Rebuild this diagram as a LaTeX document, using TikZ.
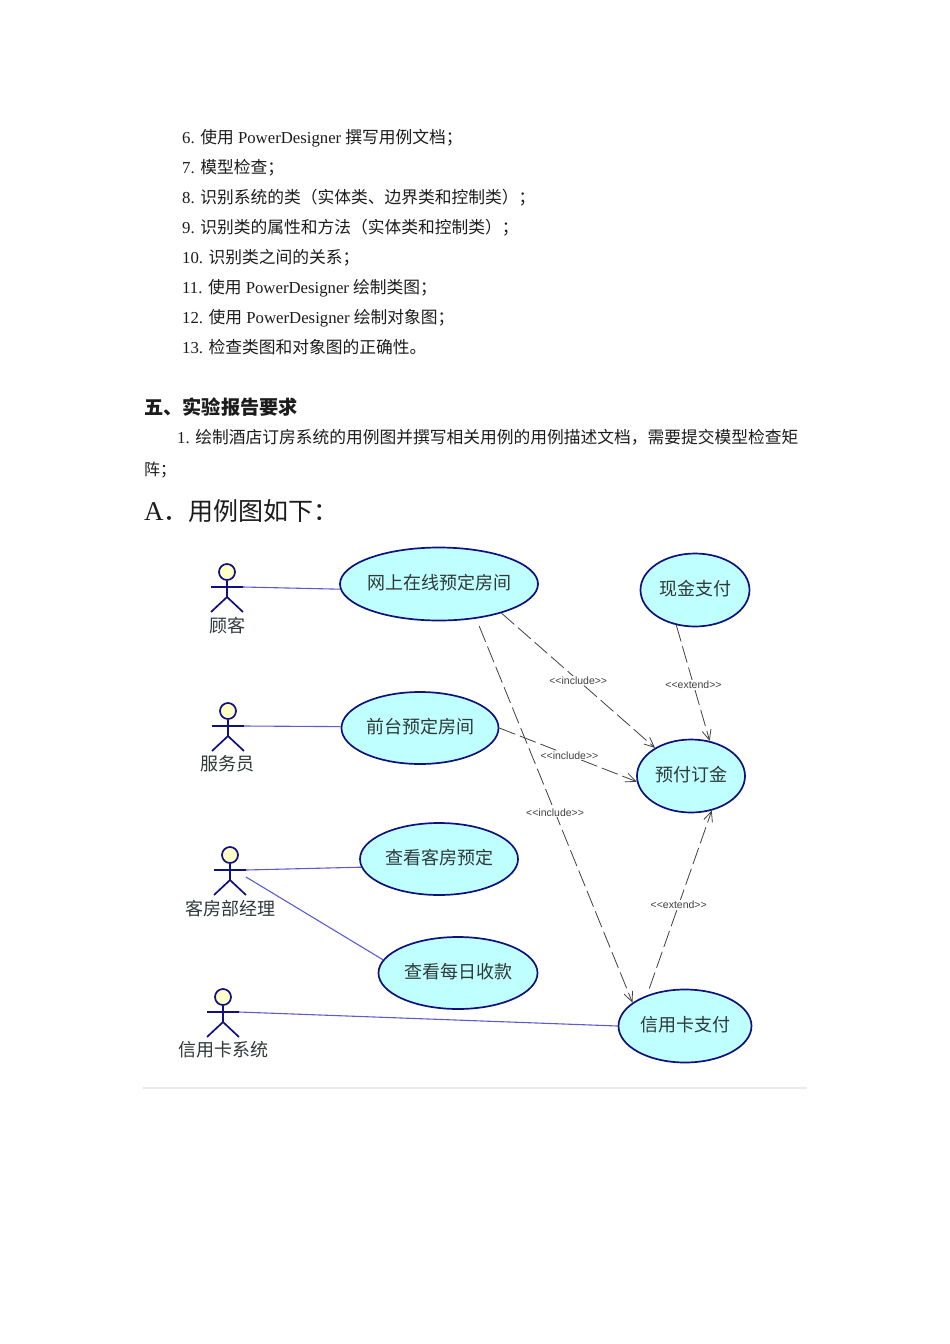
\documentclass[tikz,border=0pt]{standalone}
\usepackage{fontspec}
\setmainfont{Liberation Serif}
\newfontfamily\cjk{Noto Sans CJK SC}
\newfontfamily\umlfont{Liberation Sans}
\usetikzlibrary{arrows.meta,positioning,shapes.geometric}
\definecolor{caseFill}{HTML}{BFFFFF}
\definecolor{caseEdge}{HTML}{10107F}
\definecolor{headFill}{HTML}{FFFFC8}
\definecolor{assocBlue}{HTML}{5C5CD0}
\definecolor{bodyText}{HTML}{1C1C1C}
\definecolor{caseText}{HTML}{303838}
\tikzset{actor/.pic={
  \node[draw=caseEdge,fill=headFill,line width=1.7pt,circle,minimum size=16pt,inner sep=0pt] (-head) at (0,0) {};
  \coordinate (-hand) at (16,15);
  \coordinate (-side) at (16,22);
  \draw[caseEdge,line width=1.7pt] (-head) -- (0,25) (-16,15) -- (-hand) (-16,40) -- (0,25) -- (16,40);
}}
\begin{document}
\begin{tikzpicture}[x=1pt,y=-1pt,>={Straight Barb[length=10pt,width=9pt]}]
\tikzstyle{usecase}=[draw=caseEdge,fill=caseFill,ellipse,line width=1.7pt,inner sep=-6pt,text height=15.5pt,text depth=5pt,text=caseText,font=\fontsize{18}{20}\selectfont\cjk]
\tikzstyle{actorname}=[text=caseText,inner sep=0pt,font=\fontsize{18}{20}\selectfont\cjk]
\tikzstyle{assoc}=[draw=assocBlue,line width=1.1pt]
\tikzstyle{dep}=[->,draw=black!75,line width=.8pt,dash pattern=on 17pt off 5pt]
\tikzstyle{stereo}=[fill=white,inner sep=1pt,text=black!75,font=\fontsize{10.5}{12}\selectfont\umlfont]
\tikzstyle{para}=[anchor=base west,inner sep=0pt,text=bodyText,font=\fontsize{16.75}{20}\selectfont]
\useasboundingbox (0,0) rectangle (950,1344);
\fill[white] (0,0) rectangle (950,1344);
% text above
\foreach \y/\txt in {143/{6. {\cjk 使用} PowerDesigner {\cjk 撰写用例文档；}},
  173/{7. {\cjk 模型检查；}},
  203/{8. {\cjk 识别系统的类（实体类、边界类和控制类）；}},
  233/{9. {\cjk 识别类的属性和方法（实体类和控制类）；}},
  263/{10. {\cjk 识别类之间的关系；}},
  293/{11. {\cjk 使用} PowerDesigner {\cjk 绘制类图；}},
  323/{12. {\cjk 使用} PowerDesigner {\cjk 绘制对象图；}},
  353/{13. {\cjk 检查类图和对象图的正确性。}}}{
  \node[para] (line\y) at (182,\y) {\txt};
}
\node[para,font=\fontsize{19.2}{22}\selectfont\cjk\bfseries] (heading) at (144,414) {五、实验报告要求};
\node[para] (task) at (177,443) {1. {\cjk 绘制酒店订房系统的用例图并撰写相关用例的用例描述文档，需要提交模型检查矩}};
\node[para,font=\fontsize{16}{20}\selectfont\cjk] (taskend) at (144,475) {阵；};
\node[para] (title) at (144,520) {\fontsize{27}{30}\selectfont A{\fontsize{25}{30}\selectfont\cjk ．用例图如下：}};
% actors
\pic (guest) at (227,572) {actor};
\pic (clerk) at (228,711) {actor};
\pic (manager) at (230,855) {actor};
\pic (cardsys) at (223,997) {actor};
\node[actorname] (guestname) at (227,626) {顾客};
\node[actorname] (clerkname) at (227,764) {服务员};
\node[actorname] (managername) at (230,909) {客房部经理};
\node[actorname] (cardsysname) at (223,1050) {信用卡系统};
% use cases
\node[usecase,minimum width=198pt,minimum height=73pt] (online) at (439,584) {网上在线预定房间};
\node[usecase,minimum width=157pt,minimum height=72pt] (desk) at (420,728) {前台预定房间};
\node[usecase,minimum width=158pt,minimum height=72pt] (roomview) at (439,859) {查看客房预定};
\node[usecase,minimum width=159pt,minimum height=72pt] (dailyview) at (458,973) {查看每日收款};
\node[usecase,minimum width=109pt,minimum height=73pt] (cash) at (695,590) {现金支付};
\node[usecase,minimum width=108pt,minimum height=73pt] (deposit) at (691,776) {预付订金};
\node[usecase,minimum width=133pt,minimum height=73pt] (card) at (685,1026) {信用卡支付};
% associations
\draw[assoc] (guest-hand) -- (online.183);
\draw[assoc] (clerk-hand) -- (desk.179);
\draw[assoc] (manager-hand) -- (roomview.186);
\draw[assoc] (manager-side) -- (dailyview.170);
\draw[assoc] (cardsys-hand) -- (card.west);
% dependencies
\draw[dep] (online.335) -- node[stereo,pos=.5] (incA) {<<include>>} (deposit.142);
\draw[dep] (desk.east) -- node[stereo,pos=.51] (incB) {<<include>>} (deposit.186);
\draw[dep,shorten <=8pt] (online.317) -- node[stereo,pos=.505] (incC) {<<include>>} (card.156);
\draw[dep] (cash.242) -- node[stereo,pos=.515] (extA) {<<extend>>} (deposit.62);
\draw[dep,shorten <=7pt] (card.141) -- node[stereo,pos=.49] (extB) {<<extend>>} (deposit.301);
% rule under the figure
\draw[black!8,line width=1.5pt] (143,1088) coordinate (ruleL) -- (807,1088) coordinate (ruleR);
\end{tikzpicture}
\end{document}
